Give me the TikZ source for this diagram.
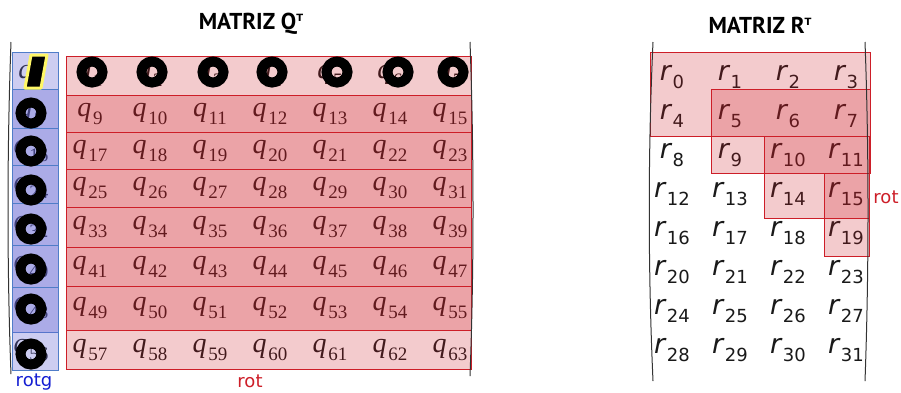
\documentclass[tikz,border=0pt]{standalone}
\usepackage{fontspec}
\setmainfont{Liberation Serif}
\newfontfamily\labfont{DejaVu Sans}
\newfontfamily\headfont{PT Sans}
\usetikzlibrary{positioning}
\definecolor{rotred}{RGB}{205,30,40}
\definecolor{rotblue}{RGB}{100,100,210}
\definecolor{cellblue}{RGB}{80,125,200}
\definecolor{txtblue}{RGB}{20,30,210}
\newcommand{\qent}[1]{{\fontsize{28}{28}\selectfont\itshape q}\,\raisebox{-8pt}{\fontsize{19}{19}\selectfont #1}}
\newcommand{\rent}[1]{{\fontsize{27}{27}\selectfont\labfont\itshape r}\,\raisebox{-8pt}{\fontsize{18}{18}\selectfont\labfont #1}}

\begin{document}
\begin{tikzpicture}[x=1pt, y=-1pt,
  entry/.style={inner sep=0pt, text=black!90},
  redbox/.style={draw=rotred, fill=rotred, fill opacity=0.23, line width=0.9pt},
  bluebox/.style={draw=cellblue, fill=rotblue, fill opacity=0.32, line width=0.9pt},
  paren/.style={black!80, line width=1pt},
  ring/.style={black, line width=10pt},
  head/.style={inner sep=0pt, font=\headfont\bfseries\fontsize{23}{23}\selectfont}]
\useasboundingbox (0,0) rectangle (901,392);

% Titles
\node[head] (titleQ) at (251,24) {MATRIZ Q\raisebox{8pt}{\labfont\fontsize{10}{10}\selectfont T}};
\node[head] (titleR) at (760,25) {MATRIZ R\raisebox{8pt}{\labfont\fontsize{10}{10}\selectfont T}};

% Entries of Q (first column in the blue strip)
\foreach \yc [count=\i from 0] in {75.5,113.5,150.5,188,227,266.5,308,349.5} {
  \pgfmathtruncatemacro\m{8*\i}
  \node[entry] (q\m) at (31,\yc) {\qent{\m}};
  \foreach \j in {0,...,6} {
    \pgfmathtruncatemacro\n{8*\i+\j+1}
    \node[entry] (q\n) at ({90+60*\j},\yc) {\qent{\n}};
  }
}

% Entries of R
\foreach \i in {0,...,7} {
  \foreach \j in {0,...,3} {
    \pgfmathtruncatemacro\n{4*\i+\j}
    \node[entry] (r\n) at ({672+58*\j},{77+39*\i}) {\rent{\n}};
  }
}

% rotg: overlapping pairs of rows
\foreach \ya/\yb in {52/128, 89/165, 128/203, 165/245, 203/287, 245/332, 287/370}
  \draw[bluebox] (12,\ya) rectangle (58,\yb);

% rot on Q: overlapping pairs of rows
\foreach \ya/\yb in {56/132, 95/169, 132/207, 169/247, 207/286, 247/330, 286/369}
  \draw[redbox] (66,\ya) rectangle (471,\yb);

% rot on R
\draw[redbox] (650,52) rectangle (870,136);
\draw[redbox] (711,89) rectangle (870,173);
\draw[redbox] (764,136) rectangle (869,218);
\draw[redbox] (824,173) rectangle (869,256);

% Brackets
\draw[paren] (11,42) .. controls (7,150) and (7,270) .. (11,374);
\draw[paren] (470,42) .. controls (474,150) and (474,270) .. (470,376);
\draw[paren] (653,42) .. controls (648,150) and (648,270) .. (653,381);
\draw[paren] (865,42) .. controls (869,150) and (869,270) .. (865,381);

% Marks
\foreach \x in {92,152,213,272,337,398,453}
  \draw[ring] (\x,72) circle[radius=10.5pt];
\foreach \y in {113,151,190,229,269,309,354}
  \draw[ring] (31,\y) circle[radius=10.5pt];
\draw[fill=black, draw=yellow!60, line width=3pt, line join=round]
  (31,55) -- (47,55) -- (41,88) -- (25,88) -- cycle;

% Labels
\node[text=txtblue, font=\labfont\fontsize{18}{18}\selectfont, inner sep=0pt] (rotg) at (34,382) {rotg};
\node[text=rotred, font=\labfont\fontsize{18}{18}\selectfont, inner sep=0pt] (rotQ) at (250,381) {rot};
\node[text=rotred, font=\labfont\fontsize{18}{18}\selectfont, inner sep=0pt] (rotR) at (886,197) {rot};
\end{tikzpicture}
\end{document}
